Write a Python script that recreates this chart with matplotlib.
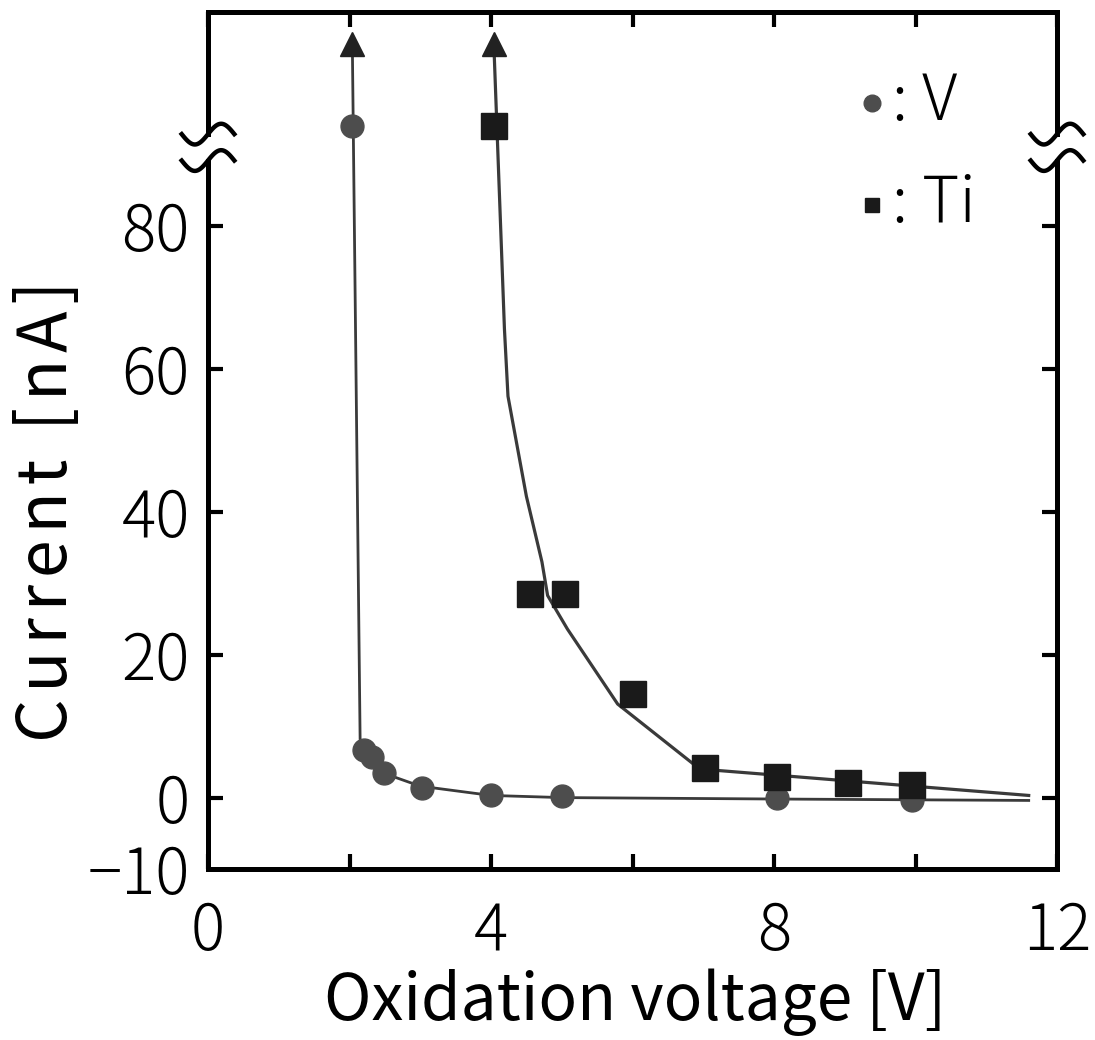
import numpy as np
import matplotlib
matplotlib.use("Agg")
import matplotlib.pyplot as plt
import matplotlib.transforms as mtransforms

plt.rcParams['font.family'] = ['Noto Sans CJK JP', 'DejaVu Sans']
plt.rcParams['font.weight'] = 300

# ---- data ----
v_x = [2.04, 2.21, 2.32, 2.49, 3.02, 4.0, 5.01, 8.04, 9.95]
v_y = [94.0, 6.6, 5.7, 3.4, 1.3, 0.3, 0.2, -0.1, -0.4]

ti_x = [4.04, 4.55, 5.05, 6.0, 7.03, 8.04, 9.04, 9.95]
ti_y = [94.0, 28.5, 28.5, 14.5, 4.1, 2.9, 2.0, 1.7]

# guide curves drawn through the data
v_line_x = [2.04, 2.15, 2.25, 2.4, 2.6, 3.0, 4.0, 5.0, 8.0, 11.6]
v_line_y = [105.5, 8.2, 5.9, 4.3, 3.0, 1.6, 0.3, 0.0, -0.2, -0.4]

ti_line_x = [4.04, 4.19, 4.24, 4.50, 4.72, 4.80, 5.08, 5.79, 6.95, 11.6]
ti_line_y = [105.5, 65.6, 56.2, 42.2, 33.0, 28.3, 23.6, 13.1, 4.0, 0.3]

arrow_x = [2.04, 4.04]
arrow_y = [105.5, 105.5]

x_ticks = [0, 2, 4, 6, 8, 10, 12]
x_ticklabels = ['0', '', '4', '', '8', '', '12']
y_ticks = [-10, 0, 20, 40, 60, 80]
y_ticklabels = ['\u221210', '0', '20', '40', '60', '80']

break_centers = [92.9, 89.2]

x_label = 'Oxidation voltage [V]'
y_label = 'Current [nA]'

FS = 46
fig = plt.figure(figsize=(10.95, 10.40), dpi=100)
ax = fig.add_axes([208/1095, 1 - 869/1040, 849/1095, 857/1040])
ax.set_xlim(0, 12)
ax.set_ylim(-10, 110)

line_col = '#3a3a3a'
ax.plot(v_line_x, v_line_y, color=line_col, lw=2.0, zorder=2)
ax.plot(ti_line_x, ti_line_y, color=line_col, lw=2.3, zorder=2)
ax.plot(v_x, v_y, 'o', ms=16.5, color='#4d4d4d', mec='#4d4d4d', zorder=3)
ax.plot(ti_x, ti_y, 's', ms=18.5, color='#1a1a1a', mec='#1a1a1a', zorder=4)
ax.plot(arrow_x, arrow_y, '^', ms=17, color='#222222', zorder=5, clip_on=False)

# spines
for s in ['left', 'right']:
    ax.spines[s].set_visible(False)
for s in ['top', 'bottom']:
    ax.spines[s].set_linewidth(3.6)

trans = mtransforms.blended_transform_factory(ax.transAxes, ax.transData)
hi, lo = max(break_centers), min(break_centers)
for xa in [0, 1]:
    ax.plot([xa, xa], [-10, lo], color='black', lw=3.6, transform=trans,
            clip_on=False, solid_capstyle='projecting')
    ax.plot([xa, xa], [hi, 110], color='black', lw=3.6, transform=trans,
            clip_on=False, solid_capstyle='projecting')
    t = np.linspace(-np.pi, np.pi, 80)
    for yc in break_centers:
        ax.plot(xa + 0.031 * t / np.pi, yc + 1.45 * np.sin(t), color='black',
                lw=3.2, transform=trans, clip_on=False, zorder=6)

# ticks
ax.set_xticks(x_ticks)
ax.set_xticklabels(x_ticklabels)
ax.set_yticks(y_ticks)
ax.set_yticklabels(y_ticklabels)
ax.tick_params(axis='both', which='major', direction='in', length=11, width=3,
               labelsize=FS, top=True, right=True)
ax.tick_params(axis='x', pad=22)
ax.tick_params(axis='y', pad=13)
ax.yaxis.get_major_ticks()[0].tick1line.set_visible(False)
ax.yaxis.get_major_ticks()[0].tick2line.set_visible(False)

ax.set_xlabel(x_label, fontsize=FS)
# the reference sets the vertical label with wider letter spacing
ax.set_ylabel('\u200a'.join(y_label), fontsize=49)
ax.xaxis.set_label_coords(0.503, -0.116)
ax.yaxis.set_label_coords(-0.147, 0.417)

# legend
ax.plot([0.782], [0.894], 'o', ms=12, color='#4d4d4d', transform=ax.transAxes)
ax.plot([0.782], [0.775], 's', ms=9.5, color='#1a1a1a', transform=ax.transAxes)
ax.text(0.806, 0.894, ': V', fontsize=FS, va='center', ha='left', transform=ax.transAxes)
ax.text(0.806, 0.775, ': Ti', fontsize=FS, va='center', ha='left', transform=ax.transAxes)

fig.savefig('out.png', dpi=100)
